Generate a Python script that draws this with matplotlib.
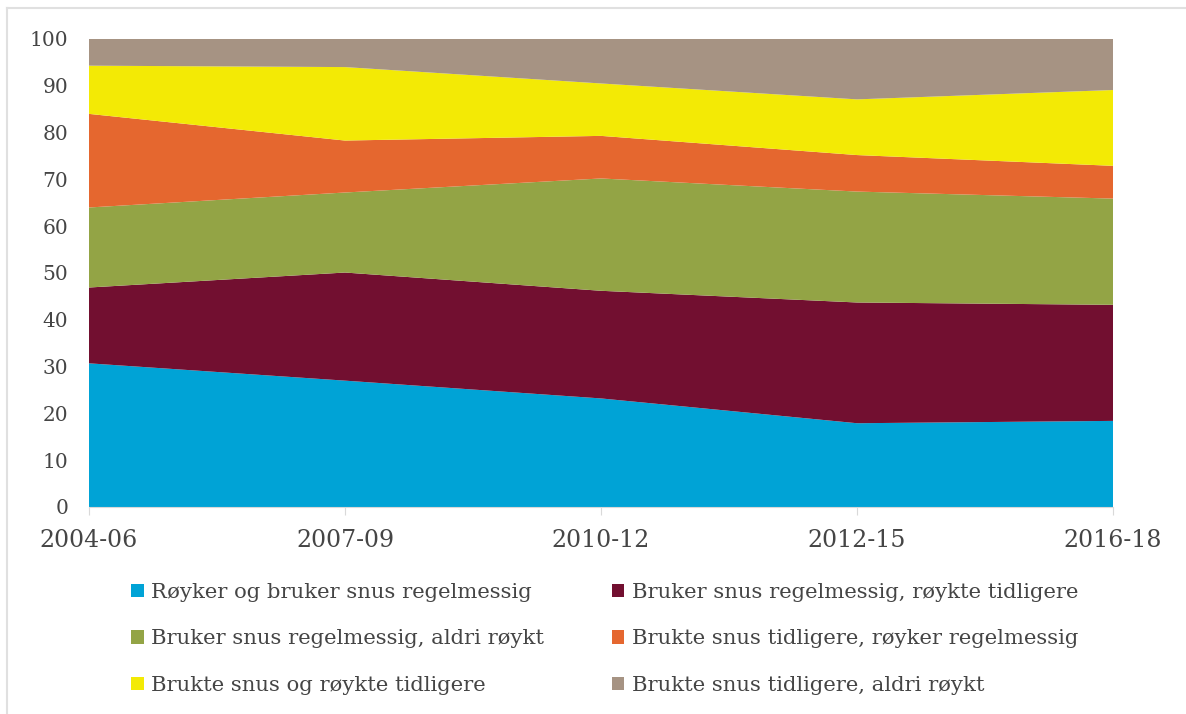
import matplotlib
matplotlib.use("Agg")
import matplotlib.pyplot as plt
from matplotlib.patches import Patch
from matplotlib.lines import Line2D

periods = ["2004-06", "2007-09", "2010-12", "2012-15", "2016-18"]
series_names = [
    "Røyker og bruker snus regelmessig",
    "Bruker snus regelmessig, røykte tidligere",
    "Bruker snus regelmessig, aldri røykt",
    "Brukte snus tidligere, røyker regelmessig",
    "Brukte snus og røykte tidligere",
    "Brukte snus tidligere, aldri røykt",
]
royker_bruker = [30.7, 27.0, 23.2, 17.9, 18.4]
bruker_royktetidl = [16.2, 23.1, 23.0, 25.8, 24.8]
bruker_aldri = [17.1, 17.1, 24.0, 23.7, 22.7]
bruktetidl_royker = [20.0, 11.1, 9.1, 7.8, 7.0]
brukte_royktetidl = [10.3, 15.7, 11.2, 11.9, 16.2]
bruktetidl_aldri = [5.7, 6.0, 9.5, 12.9, 10.9]
yticks = [0, 10, 20, 30, 40, 50, 60, 70, 80, 90, 100]

colors = ["#00A3D6", "#720F30", "#93A445", "#E5672F", "#F3EA05", "#A69383"]
text_color = "#454545"
font = "DejaVu Serif"

fig = plt.figure(figsize=(11.86, 7.14), dpi=100)
ax = fig.add_axes([89/1186, 1-507/714, (1113-89)/1186, (507-39)/714])

x = list(range(len(periods)))
data = [royker_bruker, bruker_royktetidl, bruker_aldri,
        bruktetidl_royker, brukte_royktetidl, bruktetidl_aldri]
ax.stackplot(x, *data, colors=colors, linewidth=0)

ax.set_xlim(0, len(periods) - 1)
ax.set_ylim(0, 100)
ax.set_yticks(yticks)
ax.set_yticklabels([str(v) for v in yticks], fontfamily=font, fontsize=14.5, color=text_color)
ax.set_xticks(x)
ax.set_xticklabels(periods, fontfamily=font, fontsize=17, color=text_color)
for s in ["top", "right", "left"]:
    ax.spines[s].set_visible(False)
ax.spines["bottom"].set_color("#D9D9D9")
ax.tick_params(axis="y", length=0, pad=15)
ax.tick_params(axis="x", length=6, color="#D9D9D9", pad=10)

# legend: column 1 = blue, green, yellow; column 2 = maroon, orange, gray
order = [0, 2, 4, 1, 3, 5]
handles = [Patch(facecolor=colors[i], edgecolor="none") for i in order]
labels = [series_names[i] for i in order]
leg = fig.legend(handles, labels, loc="upper left", bbox_to_anchor=(112/1186, 1-564/714),
                 ncol=2, frameon=False, handlelength=0.6, handleheight=0.6,
                 handletextpad=0.35, columnspacing=3.2, labelspacing=1.3,
                 prop={"family": font, "size": 15.2})
for t in leg.get_texts():
    t.set_color(text_color)

# frame lines (left and top)
fig.add_artist(Line2D([7/1186, 7/1186], [0, 1-8/714], color="#E0E0E0", lw=1.5))
fig.add_artist(Line2D([7/1186, 1], [1-8/714, 1-8/714], color="#E0E0E0", lw=1.5))

fig.savefig("out.png", dpi=100)
